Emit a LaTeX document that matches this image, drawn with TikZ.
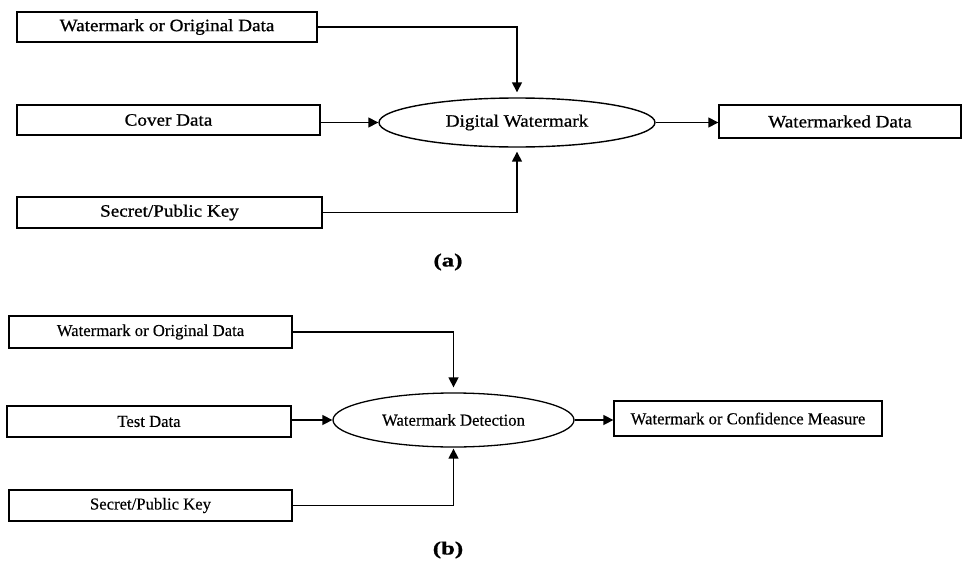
\documentclass[tikz,border=0pt]{standalone}
\usepackage{fontspec}
\setmainfont{Liberation Serif}
\newfontfamily\wideserif[FakeStretch=1.1, FakeBold=0.8]{Liberation Serif}
\newfontfamily\normserif[FakeBold=0.3]{Liberation Serif}
\newfontfamily\lblfont[FakeStretch=1.35, FakeBold=1]{Liberation Serif}
\usetikzlibrary{shapes.geometric,arrows.meta}
\tikzset{
  boxA/.style={draw, line width=1.4pt, inner sep=0pt, font=\wideserif\fontsize{17.4}{20}\selectfont},
  boxB/.style={draw, line width=1.3pt, inner sep=0pt, font=\normserif\fontsize{16.7}{20}\selectfont},
  ellA/.style={draw, ellipse, line width=1.4pt, inner sep=0pt, font=\wideserif\fontsize{17.4}{20}\selectfont},
  ellB/.style={draw, ellipse, line width=1.3pt, inner sep=0pt, font=\normserif\fontsize{16.7}{20}\selectfont},
  conn/.style={line width=1.5pt, -{Triangle[length=10pt,width=10pt]}},
  lbl/.style={font=\lblfont\bfseries\fontsize{18.5}{22}\selectfont, inner sep=0pt}
}
\begin{document}
\begin{tikzpicture}[x=1pt,y=-1pt]
\useasboundingbox (0,0) rectangle (962,562);
% (a)
\node[boxA, minimum width=300pt, minimum height=30pt] (wodA) at (167,27) {Watermark or Original Data};
\node[boxA, minimum width=303pt, minimum height=30pt] (coverA) at (168.5,120) {Cover Data};
\node[boxA, minimum width=305pt, minimum height=31pt] (keyA) at (169.5,212.5) {Secret/Public Key};
\node[ellA, minimum width=276pt, minimum height=49pt] (dwA) at (517,122.5) {Digital Watermark};
\node[boxA, minimum width=242pt, minimum height=33pt] (outA) at (840,121.5) {Watermarked Data};
\node[lbl] (labA) at (448,262) {(a)};
\draw[conn, shorten >=5pt] (wodA.east) -| (dwA.north);
\draw[conn, shorten >=4pt] (keyA.east) -| (dwA.south);
\draw[conn] (coverA.east |- dwA.west) -- (dwA.west);
\draw[conn] (dwA.east) -- (dwA.east -| outA.west);
% (b)
\node[boxB, minimum width=283pt, minimum height=32pt] (wodB) at (150.5,332) {Watermark or Original Data};
\node[boxB, minimum width=284pt, minimum height=31pt] (testB) at (149,421.5) {Test Data};
\node[boxB, minimum width=283pt, minimum height=31pt] (keyB) at (150.5,505.5) {Secret/Public Key};
\node[ellB, minimum width=241pt, minimum height=54pt] (wdB) at (453.5,420) {Watermark Detection};
\node[boxB, minimum width=268pt, minimum height=35pt] (outB) at (748,418.5) {Watermark or Confidence Measure};
\node[lbl] (labB) at (448,550) {(b)};
\draw[conn, shorten >=5pt] (wodB.east) -| (wdB.north);
\draw[conn, shorten >=1pt] (keyB.east) -| (wdB.south);
\draw[conn] (testB.east |- wdB.west) -- (wdB.west);
\draw[conn] (wdB.east) -- (wdB.east -| outB.west);
\end{tikzpicture}
\end{document}
